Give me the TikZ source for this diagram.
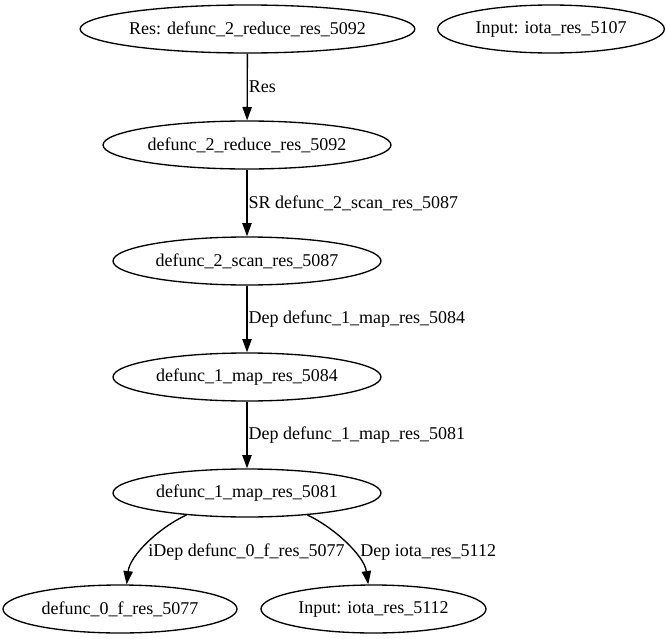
\documentclass[tikz,border=0pt]{standalone}
\usepackage{fontspec}
\setmainfont{Liberation Serif}
\usetikzlibrary{shapes.geometric,arrows.meta}
\begin{document}
\begin{tikzpicture}[x=0.75pt,y=-0.75pt,
  gnode/.style={draw,ellipse,inner sep=0pt,minimum height=36pt,line width=1pt,font=\fontsize{13.5pt}{16pt}\selectfont},
  edge/.style={draw,line width=1pt,-{Triangle[length=10pt,width=7pt]}},
  elabel/.style={right,inner sep=0.75pt,font=\fontsize{13.5pt}{16pt}\selectfont},
  flabel/.style={anchor=west,inner sep=0pt,font=\fontsize{13.5pt}{16pt}\selectfont}]
\useasboundingbox (0,0) rectangle (668,639);
\node[gnode,minimum width=251pt] (n1) at (247.5,29) {\makebox[0pt]{Res: defunc\_2\_reduce\_res\_5092}};
\node[gnode,minimum width=170pt] (n2) at (551,29) {\makebox[0pt]{Input: iota\_res\_5107}};
\node[gnode,minimum width=216pt] (n3) at (247,145) {\makebox[0pt]{defunc\_2\_reduce\_res\_5092}};
\node[gnode,minimum width=201pt] (n4) at (247,261) {\makebox[0pt]{defunc\_2\_scan\_res\_5087}};
\node[gnode,minimum width=201pt] (n5) at (247,377) {\makebox[0pt]{defunc\_1\_map\_res\_5084}};
\node[gnode,minimum width=201pt] (n6) at (247,493) {\makebox[0pt]{defunc\_1\_map\_res\_5081}};
\node[gnode,minimum width=175.5pt] (n7) at (120,609) {\makebox[0pt]{defunc\_0\_f\_res\_5077}};
\node[gnode,minimum width=168.75pt] (n8) at (373.5,609) {\makebox[0pt]{Input: iota\_res\_5112}};
\draw[edge] (n1) -- node[elabel] {Res} (n3);
\draw[edge] (n3) -- node[elabel] {SR defunc\_2\_scan\_res\_5087} (n4);
\draw[edge] (n4) -- node[elabel] {Dep defunc\_1\_map\_res\_5084} (n5);
\draw[edge] (n5) -- node[elabel] {Dep defunc\_1\_map\_res\_5081} (n6);
\draw[edge] (n6.200) .. controls (160,527) and (130,555) .. (n7.75);
\draw[edge] (n6.340) .. controls (333,527) and (364,555) .. (n8.102);
\node[flabel] (l7) at (148,552) {iDep defunc\_0\_f\_res\_5077};
\node[flabel] (l8) at (360,552) {Dep iota\_res\_5112};
\end{tikzpicture}
\end{document}
